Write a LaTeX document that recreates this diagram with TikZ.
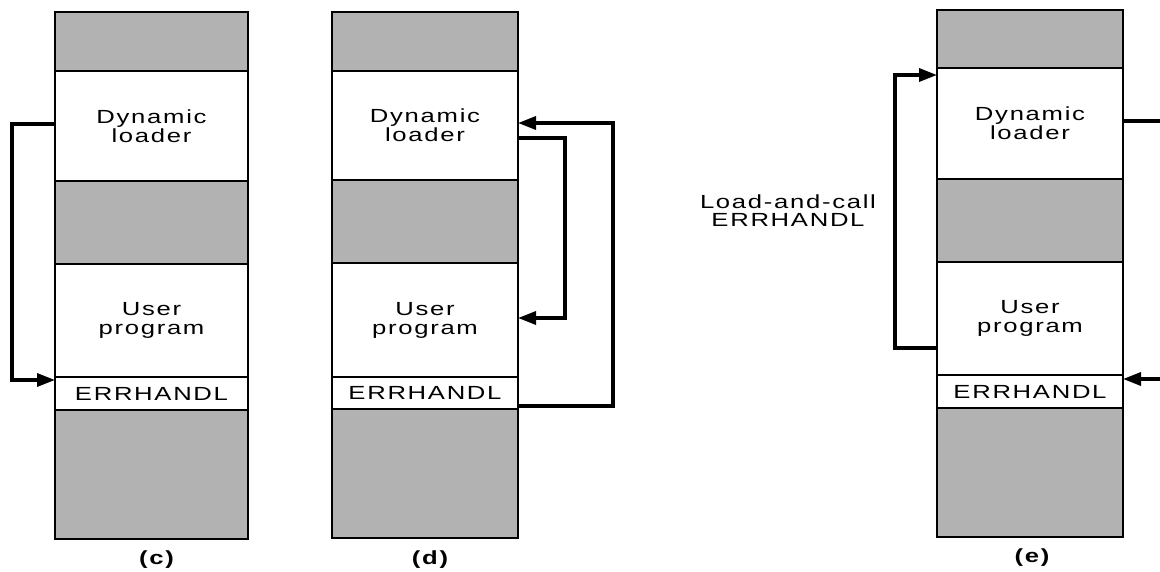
\documentclass[tikz,border=0pt]{standalone}
\usepackage{fontspec}
\newfontfamily\lab[FakeStretch=1.35,LetterSpace=9]{Liberation Sans}
\usetikzlibrary{arrows.meta}
\begin{document}
\begin{tikzpicture}[x=1pt,y=-1pt,
  seg/.style={draw=black, line width=1.8pt, inner sep=0pt, outer sep=0pt, align=center,
    font=\lab\fontsize{19}{19}\selectfont, text=black},
  shade/.style={seg, fill=black!30},
  conn/.style={line width=3.4pt, line join=miter, -{Triangle[length=18pt,width=13pt]}},
  sublabel/.style={font=\lab\bfseries\fontsize{19}{19}\selectfont, text=black},
  note/.style={font=\lab\fontsize{19}{18}\selectfont, align=center, text=black}]
\clip (0,0) rectangle (1160,571);
% column (c)
\node[shade, minimum width=193pt, minimum height=59pt]  (tc)  at (151.5,41.5) {};
\node[seg,   minimum width=193pt, minimum height=110pt] (dlc) at (151.5,126) {Dynamic\\loader};
\node[shade, minimum width=193pt, minimum height=83pt]  (mc)  at (151.5,222.5) {};
\node[seg,   minimum width=193pt, minimum height=113pt] (upc) at (151.5,320.5) {User\\program};
\node[seg,   minimum width=193pt, minimum height=33pt]  (ehc) at (151.5,393.5) {ERRHANDL};
\node[shade, minimum width=193pt, minimum height=129pt] (bc)  at (151.5,474.5) {};
\node[sublabel] (lc) at (156.5,560) {(c)};
% column (d)
\node[shade, minimum width=186pt, minimum height=59pt]  (td)  at (425,41.5) {};
\node[seg,   minimum width=186pt, minimum height=109pt] (dld) at (425,125.5) {Dynamic\\loader};
\node[shade, minimum width=186pt, minimum height=83pt]  (md)  at (425,221.5) {};
\node[seg,   minimum width=186pt, minimum height=114pt] (upd) at (425,320) {User\\program};
\node[seg,   minimum width=186pt, minimum height=32pt]  (ehd) at (425,393) {ERRHANDL};
\node[shade, minimum width=186pt, minimum height=129pt] (bd)  at (425,473.5) {};
\node[sublabel] (ld) at (430,560) {(d)};
% column (e)
\node[shade, minimum width=186pt, minimum height=58pt]  (te)  at (1030,39) {};
\node[seg,   minimum width=186pt, minimum height=111pt] (dle) at (1030,123.5) {Dynamic\\loader};
\node[shade, minimum width=186pt, minimum height=83pt]  (me)  at (1030,220.5) {};
\node[seg,   minimum width=186pt, minimum height=113pt] (upe) at (1030,318.5) {User\\program};
\node[seg,   minimum width=186pt, minimum height=33pt]  (ehe) at (1030,391.5) {ERRHANDL};
\node[shade, minimum width=186pt, minimum height=129pt] (be)  at (1030,472.5) {};
\node[sublabel] (le) at (1032,558) {(e)};
\node[note] (lac) at (788,211) {Load-and-call\\ERRHANDL};
% connectors
\draw[conn] ([yshift=2pt]dlc.west) -- ++(-43,0) |- ([yshift=-3pt]ehc.north west);
\draw[conn] ([yshift=3pt]ehd.south east) -- ++(95,0) |- ([yshift=2.5pt]dld.east);
\draw[conn] ([yshift=-12.5pt]dld.east) -- ++(47,0) |- ([yshift=2pt]upd.east);
\draw[conn] ([yshift=-29.5pt]upe.west) -- ++(-42,0) |- ([yshift=-7pt]dle.north west);
\draw[conn] ([yshift=2.5pt]dle.east) -- ++(50,0) |- ([yshift=-4pt]ehe.north east);
\end{tikzpicture}
\end{document}
